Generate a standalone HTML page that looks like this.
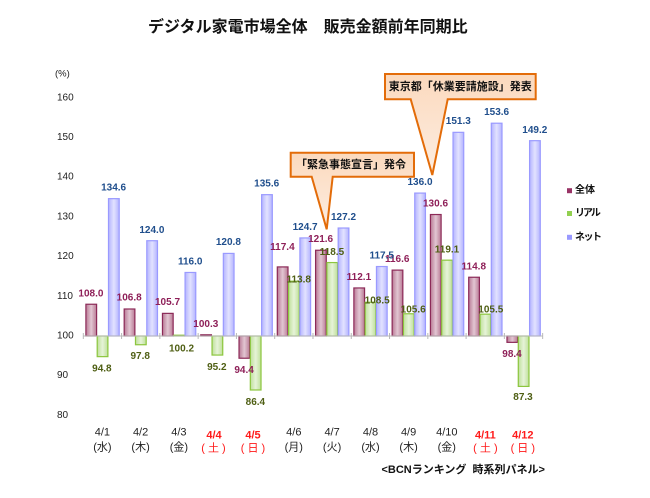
<!DOCTYPE html>
<html><head><meta charset="utf-8"><style>
html,body{margin:0;padding:0;background:#fff;}
svg{display:block;}
.v{font-family:"Liberation Sans",sans-serif;font-size:10px;font-weight:bold;text-anchor:middle;dominant-baseline:central;}
.r{fill:#8e1f58;}.g{fill:#4f5f14;}.b{fill:#1f4e8c;}
.ax{font-family:"Liberation Sans",sans-serif;font-size:10px;fill:#222;dominant-baseline:central;}
.d{font-family:"Liberation Sans","Noto Sans CJK JP",sans-serif;font-size:11px;fill:#222;text-anchor:middle;dominant-baseline:central;}
.dr{font-family:"Liberation Sans","Noto Sans CJK JP",sans-serif;font-size:11px;fill:#ff1a1a;text-anchor:middle;dominant-baseline:central;}
.bold{font-weight:bold;}
.cj{font-family:"Liberation Sans","Noto Sans CJK JP",sans-serif;font-weight:bold;dominant-baseline:central;fill:#111;}
</style></head><body>
<svg width="650" height="498" viewBox="0 0 650 498" xmlns="http://www.w3.org/2000/svg">
<defs>
<linearGradient id="gr" x1="0" x2="1" y1="0" y2="0"><stop offset="0" stop-color="#b97a95"/><stop offset="0.5" stop-color="#e2c6d2"/><stop offset="1" stop-color="#b97a95"/></linearGradient>
<linearGradient id="gg" x1="0" x2="1" y1="0" y2="0"><stop offset="0" stop-color="#bfe09a"/><stop offset="0.5" stop-color="#e6f3d8"/><stop offset="1" stop-color="#bfe09a"/></linearGradient>
<linearGradient id="gb" x1="0" x2="1" y1="0" y2="0"><stop offset="0" stop-color="#b4b4ff"/><stop offset="0.5" stop-color="#e2e2ff"/><stop offset="1" stop-color="#b4b4ff"/></linearGradient>
<linearGradient id="gc" x1="0" x2="0" y1="0" y2="1"><stop offset="0" stop-color="#fbd9bd"/><stop offset="1" stop-color="#fdeee2"/></linearGradient>
</defs>

<text x="148" y="27.5" class="cj" style="font-size:16px;">デジタル家電市場全体　販売金額前年同期比</text>

<text x="55" y="74" class="ax" style="font-size:9.5px">(%)</text>
<text x="57" y="97.8" class="ax">160</text>
<text x="57" y="137.5" class="ax">150</text>
<text x="57" y="177.2" class="ax">140</text>
<text x="57" y="216.9" class="ax">130</text>
<text x="57" y="256.6" class="ax">120</text>
<text x="57" y="296.3" class="ax">110</text>
<text x="57" y="336" class="ax">100</text>
<text x="57" y="375.7" class="ax">90</text>
<text x="57" y="415.4" class="ax">80</text>

<g stroke="#8c2a58" stroke-width="1.2" fill="url(#gr)">
<rect x="85.9" y="304.24" width="10.7" height="31.76"/>
<rect x="124.18" y="309.0" width="10.7" height="27.0"/>
<rect x="162.46" y="313.37" width="10.7" height="22.63"/>
<rect x="200.74" y="334.81" width="10.7" height="1.19"/>
<rect x="239.02" y="336" width="10.7" height="22.23"/>
<rect x="277.3" y="266.92" width="10.7" height="69.08"/>
<rect x="315.58" y="250.25" width="10.7" height="85.75"/>
<rect x="353.86" y="287.96" width="10.7" height="48.04"/>
<rect x="392.14" y="270.10" width="10.7" height="65.9"/>
<rect x="430.42" y="214.52" width="10.7" height="121.48"/>
<rect x="468.7" y="277.24" width="10.7" height="58.76"/>
<rect x="506.98" y="336" width="10.7" height="6.35"/>
</g>
<g stroke="#8cc63e" stroke-width="1.2" fill="url(#gg)">
<rect x="97.2" y="336" width="10.7" height="20.64"/>
<rect x="135.48" y="336" width="10.7" height="8.73"/>
<rect x="173.76" y="335.21" width="10.7" height="0.79"/>
<rect x="212.04" y="336" width="10.7" height="19.06"/>
<rect x="250.32" y="336" width="10.7" height="53.99"/>
<rect x="288.6" y="281.21" width="10.7" height="54.79"/>
<rect x="326.88" y="262.56" width="10.7" height="73.44"/>
<rect x="365.16" y="302.26" width="10.7" height="33.74"/>
<rect x="403.44" y="313.77" width="10.7" height="22.23"/>
<rect x="441.72" y="260.17" width="10.7" height="75.83"/>
<rect x="480.0" y="314.17" width="10.7" height="21.83"/>
<rect x="518.28" y="336" width="10.7" height="50.42"/>
</g>
<g stroke="#9a9aff" stroke-width="1.2" fill="url(#gb)">
<rect x="108.5" y="198.64" width="10.7" height="137.36"/>
<rect x="146.78" y="240.72" width="10.7" height="95.28"/>
<rect x="185.06" y="272.48" width="10.7" height="63.52"/>
<rect x="223.34" y="253.42" width="10.7" height="82.58"/>
<rect x="261.62" y="194.67" width="10.7" height="141.33"/>
<rect x="299.9" y="237.94" width="10.7" height="98.06"/>
<rect x="338.18" y="228.02" width="10.7" height="107.98"/>
<rect x="376.46" y="266.53" width="10.7" height="69.47"/>
<rect x="414.74" y="193.08" width="10.7" height="142.92"/>
<rect x="453.02" y="132.34" width="10.7" height="203.66"/>
<rect x="491.3" y="123.21" width="10.7" height="212.79"/>
<rect x="529.58" y="140.68" width="10.7" height="195.32"/>
</g>

<g stroke="#b8b8b8" stroke-width="1">
<line x1="83.3" y1="336" x2="542.7" y2="336"/>
<line x1="83.3" y1="333" x2="83.3" y2="339"/>
<line x1="121.58" y1="333" x2="121.58" y2="339"/>
<line x1="159.86" y1="333" x2="159.86" y2="339"/>
<line x1="198.14" y1="333" x2="198.14" y2="339"/>
<line x1="236.42" y1="333" x2="236.42" y2="339"/>
<line x1="274.7" y1="333" x2="274.7" y2="339"/>
<line x1="312.98" y1="333" x2="312.98" y2="339"/>
<line x1="351.26" y1="333" x2="351.26" y2="339"/>
<line x1="389.54" y1="333" x2="389.54" y2="339"/>
<line x1="427.82" y1="333" x2="427.82" y2="339"/>
<line x1="466.1" y1="333" x2="466.1" y2="339"/>
<line x1="504.38" y1="333" x2="504.38" y2="339"/>
<line x1="542.66" y1="333" x2="542.66" y2="339"/>
</g>

<text class="v r" x="90.95" y="294">108.0</text>
<text class="v r" x="129.2" y="298">106.8</text>
<text class="v r" x="167.5" y="302.7">105.7</text>
<text class="v r" x="205.8" y="324.3">100.3</text>
<text class="v r" x="244.1" y="370.5">94.4</text>
<text class="v r" x="282.4" y="247.3">117.4</text>
<text class="v r" x="320.6" y="239.5">121.6</text>
<text class="v r" x="358.9" y="277.4">112.1</text>
<text class="v r" x="397.2" y="259.5">116.6</text>
<text class="v r" x="435.5" y="204.2">130.6</text>
<text class="v r" x="473.8" y="267">114.8</text>
<text class="v r" x="512.0" y="354.3">98.4</text>

<text class="v g" x="101.9" y="369">94.8</text>
<text class="v g" x="140.2" y="356.7">97.8</text>
<text class="v g" x="181.5" y="349">100.2</text>
<text class="v g" x="216.8" y="367.3">95.2</text>
<text class="v g" x="255.4" y="402.3">86.4</text>
<text class="v g" x="298.7" y="280">113.8</text>
<text class="v g" x="331.9" y="252.3">118.5</text>
<text class="v g" x="377.2" y="301">108.5</text>
<text class="v g" x="413.2" y="310">105.6</text>
<text class="v g" x="447.0" y="250">119.1</text>
<text class="v g" x="490.8" y="310">105.5</text>
<text class="v g" x="523.0" y="397.7">87.3</text>

<text class="v b" x="113.6" y="188">134.6</text>
<text class="v b" x="151.9" y="230.5">124.0</text>
<text class="v b" x="190.2" y="262">116.0</text>
<text class="v b" x="228.4" y="242.7">120.8</text>
<text class="v b" x="266.7" y="184">135.6</text>
<text class="v b" x="305.1" y="227.4">124.7</text>
<text class="v b" x="343.5" y="217.3">127.2</text>
<text class="v b" x="381.7" y="256">117.5</text>
<text class="v b" x="420.0" y="182.7">136.0</text>
<text class="v b" x="458.3" y="121.7">151.3</text>
<text class="v b" x="496.6" y="112.7">153.6</text>
<text class="v b" x="534.8" y="130.5">149.2</text>

<text class="d" x="102.4" y="432.7">4/1</text><text class="d" x="102.4" y="447.3">(水)</text>
<text class="d" x="140.6" y="432.7">4/2</text><text class="d" x="140.6" y="447.3">(木)</text>
<text class="d" x="178.9" y="432.7">4/3</text><text class="d" x="178.9" y="447.3">(金)</text>
<text class="dr bold" x="214" y="435.5">4/4</text><text class="dr" x="213.5" y="448.3">( 土 )</text>
<text class="dr bold" x="253" y="435.5">4/5</text><text class="dr" x="253" y="448.3">( 日 )</text>
<text class="d" x="293.8" y="432.7">4/6</text><text class="d" x="293.8" y="447.3">(月)</text>
<text class="d" x="332.1" y="432.7">4/7</text><text class="d" x="332.1" y="447.3">(火)</text>
<text class="d" x="370.5" y="432.7">4/8</text><text class="d" x="370.5" y="447.3">(水)</text>
<text class="d" x="408.6" y="432.7">4/9</text><text class="d" x="408.6" y="447.3">(木)</text>
<text class="d" x="446.8" y="432.7">4/10</text><text class="d" x="446.8" y="447.3">(金)</text>
<text class="dr bold" x="485.4" y="435.3">4/11</text><text class="dr" x="485.4" y="448.3">( 土 )</text>
<text class="dr bold" x="522.8" y="435.3">4/12</text><text class="dr" x="522.8" y="448.3">( 日 )</text>

<rect x="567" y="188.2" width="5" height="5" fill="#993366"/>
<rect x="567" y="211" width="5" height="5" fill="#92d050"/>
<rect x="567" y="234.8" width="5" height="5" fill="#9999ff"/>
<text class="cj" x="575" y="190.7" style="font-size:10px">全体</text>
<text class="cj" x="575" y="213.5" style="font-size:10px;letter-spacing:-2px">リアル</text>
<text class="cj" x="575" y="237.3" style="font-size:10px;letter-spacing:-1.5px">ネット</text>

<text class="cj" x="381.5" y="470" style="font-size:11px;" xml:space="preserve">&lt;BCNランキング  時系列パネル&gt;</text>

<path d="M290.7,152.7 H414 V176.7 H332.7 L326.7,229.3 L311.7,176.7 H290.7 Z" fill="url(#gc)" stroke="#e36c09" stroke-width="2" stroke-linejoin="miter"/>
<text class="cj" x="351" y="165" style="font-size:11px;text-anchor:middle">「緊急事態宣言」発令</text>
<path d="M385,74 H535.7 V99.3 H447.7 L432.3,175 L410.7,99.3 H385 Z" fill="url(#gc)" stroke="#e36c09" stroke-width="2" stroke-linejoin="miter"/>
<text class="cj" x="460.3" y="87" style="font-size:11px;text-anchor:middle">東京都「休業要請施設」発表</text>
</svg>
</body></html>
